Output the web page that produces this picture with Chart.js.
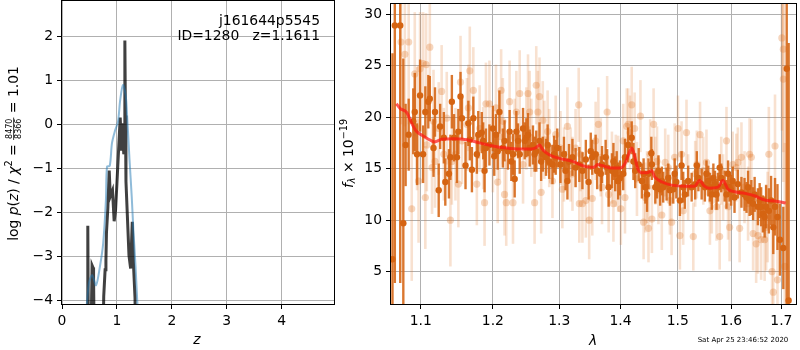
<!DOCTYPE html>
<html><head><meta charset="utf-8">
<script src="https://cdn.jsdelivr.net/npm/chart.js@4/dist/chart.umd.min.js"></script>
<style>html,body{margin:0;padding:0;background:#fff;}#wrap{position:relative;width:800px;height:350px;}canvas{position:absolute;left:0;top:0;}</style>
</head><body><div id="wrap"><canvas id="c1" width="800" height="350"></canvas><canvas id="c2" width="800" height="350"></canvas></div>
<script>
// ---------- Left panel: log p(z) ----------
const zTicks = [0, 1, 2, 3, 4];
const logpTicks = [-4, -3, -2, -1, 0, 1, 2];
const zPz = [0.455,0.466,0.470,0.485,0.515,0.548,0.565,0.575,0.595,0.735,0.76,0.785,0.80,0.81,0.835,0.86,0.875,0.89,0.92,0.95,0.975,1.0,1.03,1.06,1.085,1.10,1.125,1.14,1.145,1.155,1.165,1.19,1.22,1.25,1.28,1.30,1.33,1.35];
const logPz = [-6,-6,-2.3,-6,-6,-3.2,-3.25,-3.5,-6,-6,-3.9,-3.3,-3.1,-2.45,-1.9,-1.05,-1.5,-1.6,-1.5,-2.2,-1.95,-1.35,-0.6,0.15,-0.6,0.02,-0.68,-0.5,1.9,0.2,-1.3,-2.06,-2.97,-3.27,-2.21,-3.12,-3.94,-6];
const zFit = [0.42,0.49,0.55,0.62,0.69,0.75,0.80,0.82,0.87,0.91,0.96,1.02,1.06,1.11,1.16,1.19,1.23,1.27,1.30,1.34,1.37,1.40];
const logFit = [-4.6,-3.6,-3.42,-3.65,-3.23,-2.7,-1.72,-0.96,-0.94,-0.43,-0.17,0.06,0.55,0.89,0.66,0.1,-0.81,-1.64,-2.4,-3.23,-3.99,-4.6];

// ---------- Right panel: spectrum ----------
const lamTicks = [1.1, 1.2, 1.3, 1.4, 1.5, 1.6, 1.7];
const fluxTicks = [5, 10, 15, 20, 25, 30];
const darkLam = [1.066,1.073,1.063,1.077,1.080,1.084,1.090,1.092,1.095,1.099,
1.103,1.106,1.110,1.112,1.117,1.119,1.124,1.126,1.131,1.133,
1.138,1.140,1.142,1.145,1.149,1.151,1.154,1.156,1.161,1.165,
1.167,1.170,1.172,1.177,1.179,1.184,1.186,1.188,1.190,1.195,
1.200,1.202,1.2045,1.207,1.2095,1.2145,1.217,1.222,1.2245,1.227,
1.2295,1.232,1.2345,1.237,1.2395,1.2445,1.247,1.2495,1.252,1.2545,
1.2595,1.262,1.2645,1.2695,1.272,1.2745,1.2795,1.282,1.2845,1.2895,
1.292,1.2945,1.297,1.302,1.3075,1.310,1.313,1.3155,1.321,1.326,
1.332,1.337,1.3425,1.347,1.3505,1.353,1.3585,1.361,1.367,1.369,
1.375,1.3775,1.380,1.3855,1.388,1.391,1.3935,1.396,1.399,1.4045,
1.4075,1.413,1.419,1.422,1.425,1.431,1.4365,1.4395,1.4425,1.4455,
1.448,1.453,1.454,1.460,1.463,1.4655,1.4685,1.4715,1.474,1.480,
1.483,1.486,1.492,1.4945,1.4975,1.504,1.507,1.510,1.513,1.519,
1.5255,1.532,1.535,1.538,1.544,1.550,1.553,1.5565,1.5595,1.563,
1.566,1.569,1.572,1.575,1.578,1.581,1.5875,1.591,1.594,1.597,
1.600,1.603,1.6065,1.613,1.620,1.626,1.630,1.633,1.636,1.6395,
1.643,1.646,1.6525,1.656,1.659,1.6625,1.666,1.669,1.6745,1.679,
1.6835,1.687,1.692,1.697,1.704,1.711,1.715];
const darkFlux = [28.9,28.9,6.2,9.7,17.3,18.3,19.6,20.5,16.4,22.1,
16.4,20.5,21.5,21.8,17.0,20.5,12.9,19.1,18.0,13.7,
14.5,16.1,21.5,18.0,16.1,18.6,22.0,19.9,15.3,19.4,
17.8,14.9,19.9,16.4,18.3,18.5,17.7,14.8,17.0,17.3,
18.9,16.2,18.3,16.7,20.5,17.0,17.7,16.7,18.6,15.7,
16.4,14.0,18.6,17.7,16.4,18.9,17.7,18.0,18.3,17.0,
17.3,16.4,16.7,17.7,15.7,16.4,16.1,17.3,15.7,15.4,
16.4,16.1,17.0,15.4,16.4,14.8,13.8,15.7,16.1,15.1,
15.4,14.8,15.9,13.7,16.7,16.1,16.4,14.8,14.5,15.4,
16.1,15.1,13.2,14.8,15.7,14.5,15.1,13.8,14.1,14.5,
16.1,17.3,18.0,15.7,14.8,15.4,13.8,14.5,13.2,12.5,
14.5,16.5,15.4,13.2,13.5,14.8,13.0,13.8,13.2,13.5,
14.1,12.9,13.0,14.5,13.7,11.9,15.3,13.2,12.5,13.8,
13.2,13.5,15.3,14.1,13.5,13.2,14.5,13.8,13.2,12.5,
14.1,13.5,12.5,13.2,15.1,14.1,13.3,12.5,14.5,13.2,
12.9,13.8,12.2,13.5,12.7,12.5,12.2,13.2,11.9,12.2,
11.6,12.5,11.3,11.9,11.3,10.6,10.3,11.3,10.9,11.9,
9.3,11.3,10.3,8.1,7.3,24.7,2.2];
const darkErr = [25,25,20,16,4.0,3.5,3.2,3.8,3.0,3.5,
2.8,2.5,2.6,2.2,2.8,2.4,2.6,2.2,2.5,2.3,
2.4,2.2,2.6,2.3,2.5,2.2,2.4,2.0,2.3,2.2,
2.0,2.2,2.1,1.9,2.3,2.0,1.8,2.1,1.9,2.0,
2.2,1.9,2.0,1.8,2.1,1.9,2.0,1.8,2.1,1.9,
2.0,1.8,2.0,1.7,1.9,2.0,1.8,1.9,2.1,1.8,
1.9,1.7,2.0,1.8,1.9,1.7,1.8,2.0,1.7,1.9,
1.8,1.7,1.9,1.8,1.7,1.9,1.8,1.7,1.8,1.9,
1.7,1.8,1.9,1.7,1.8,1.7,1.9,1.8,1.7,1.8,
1.7,1.8,1.9,1.7,1.8,1.7,1.6,1.8,1.7,1.6,
1.8,1.7,1.6,1.8,1.7,1.6,1.7,1.5,1.6,1.7,
1.5,1.6,1.5,1.6,1.4,1.5,1.6,1.4,1.5,1.6,
1.4,1.5,1.4,1.5,1.6,1.5,1.4,1.5,1.4,1.5,
1.4,1.5,1.4,1.3,1.5,1.4,1.3,1.5,1.4,1.5,
1.4,1.3,1.5,1.4,1.3,1.4,1.5,1.4,1.3,1.4,
1.5,1.4,1.5,1.4,1.5,1.6,1.5,1.6,1.5,1.7,
1.6,1.7,1.8,1.7,1.9,1.8,2.0,2.1,2.2,2.4,
2.6,2.8,3.2,3.5,4.0,25,25];
const lightLam = [1.074,1.079,1.084,1.088,1.092,1.095,1.097,1.099,1.103,1.107,
1.112,1.106,1.108,1.115,1.117,1.119,1.124,1.128,1.131,1.135,
1.140,1.142,1.147,1.151,1.154,1.156,1.163,1.165,1.167,1.172,
1.177,1.181,1.186,1.188,1.190,1.195,1.200,1.2045,1.207,1.2095,
1.212,1.2145,1.217,1.2195,1.2245,1.2295,1.232,1.2345,1.2395,1.2445,
1.2495,1.252,1.2545,1.257,1.262,1.2645,1.267,1.2695,1.272,1.2745,
1.277,1.282,1.2845,1.2895,1.2945,1.302,1.305,1.3075,1.313,1.318,
1.321,1.326,1.331,1.332,1.334,1.337,1.3425,1.348,1.353,1.3585,
1.363,1.367,1.369,1.3775,1.380,1.3855,1.388,1.392,1.396,1.4005,
1.4045,1.4075,1.4105,1.413,1.416,1.419,1.424,1.428,1.434,1.4395,
1.4425,1.4455,1.448,1.451,1.454,1.457,1.460,1.463,1.4655,1.4715,
1.4775,1.483,1.486,1.489,1.4945,1.5005,1.504,1.507,1.510,1.516,
1.519,1.5285,1.532,1.535,1.541,1.547,1.553,1.5595,1.563,1.572,
1.578,1.581,1.5845,1.591,1.594,1.597,1.603,1.610,1.613,1.6165,
1.620,1.626,1.633,1.636,1.6395,1.643,1.649,1.6525,1.659,1.666,
1.669,1.672,1.6745,1.681,1.6835,1.687,1.692,1.701,1.704,1.704,
1.707];
const lightFlux = [27.3,26.1,27.3,11.1,24.2,18.9,13.8,24.7,25.2,25.1,
26.8,12.2,17.3,15.1,19.6,15.7,18.9,22.5,16.4,19.9,
10.0,15.7,16.4,13.5,23.4,17.7,19.3,20.9,24.5,22.6,
13.5,18.9,17.0,11.7,21.3,21.3,16.7,20.9,13.7,18.1,
22.6,19.6,12.5,11.7,21.5,11.7,18.0,20.5,22.3,15.4,
18.9,22.3,20.5,18.0,11.7,23.1,20.5,22.0,12.7,19.7,
17.8,18.6,17.0,13.8,18.3,17.0,13.0,15.4,19.1,15.4,
14.5,17.0,21.2,11.6,16.4,11.6,11.9,10.0,12.1,17.7,
19.3,16.1,13.2,20.5,12.5,15.1,11.6,14.8,14.5,11.1,
17.7,12.2,19.1,19.3,18.5,21.2,18.9,14.0,20.1,9.8,
12.2,13.2,9.2,16.4,10.1,19.3,14.8,15.7,12.9,10.5,
15.6,15.1,11.9,9.8,16.1,18.9,8.5,16.4,10.9,18.5,
13.2,8.4,14.5,15.4,18.3,14.8,15.6,10.9,11.9,11.3,
8.4,14.8,13.2,17.7,11.3,9.3,15.4,15.1,15.6,9.2,
16.1,13.2,11.6,16.4,16.1,8.7,7.7,8.5,8.1,8.1,
9.3,10.3,16.4,5.0,3.0,17.2,4.2,27.7,26.6,23.7,
5.5];
const lightErr = [8,7,8,7,6,6,6,5.5,5,5,
5,5,4.5,4.5,5,4.5,4.5,4.5,4.5,4.5,
4.5,4.2,4.5,4.2,4.5,4.2,4.5,4.2,4.3,4.2,
4.0,4.2,4.0,4.2,4.0,4.2,4.0,4.2,4.0,4.2,
4.0,4.2,4.0,4.2,4.0,4.0,3.8,4.0,4.2,3.8,
4.0,3.8,4.0,3.8,4.0,3.8,4.0,3.8,4.0,3.8,
3.8,4.0,3.8,3.6,3.8,3.6,3.8,3.6,3.8,3.6,
3.6,3.8,3.6,3.8,3.6,3.8,3.6,3.8,3.6,3.8,
3.6,3.8,3.6,3.5,3.7,3.5,3.7,3.5,3.7,3.5,
3.6,3.5,3.7,3.5,3.6,3.7,3.5,3.6,3.5,3.6,
3.4,3.5,3.3,3.4,3.3,3.5,3.3,3.4,3.3,3.4,
3.3,3.2,3.3,3.2,3.3,3.2,3.3,3.2,3.3,3.2,
3.2,3.3,3.2,3.3,3.2,3.3,3.2,3.3,3.2,3.3,
3.2,3.3,3.2,3.3,3.2,3.3,3.2,3.3,3.4,3.3,
3.4,3.5,3.6,3.5,3.7,3.6,3.8,3.7,3.9,4.0,
4.2,4.4,4.6,5.0,5.5,5.0,6.0,9,10,10,
12];
const modelLam = [1.068,1.073,1.0816,1.088,1.0945,1.101,1.1092,1.1183,1.128,1.1445,1.163,1.181,1.200,1.2195,1.2395,1.257,1.2645,1.2695,1.2745,1.2845,1.300,1.321,1.3425,1.356,1.3615,1.369,1.3855,1.400,1.4075,1.4145,1.419,1.4235,1.429,1.436,1.4455,1.4535,1.459,1.472,1.489,1.513,1.531,1.540,1.549,1.558,1.575,1.584,1.594,1.607,1.627,1.647,1.666,1.686,1.709];
const modelFlux = [21.3,20.83,20.45,19.4,18.6,18.27,17.9,17.6,17.85,17.9,17.8,17.5,17.2,17.0,16.9,16.9,17.05,17.3,16.83,16.35,16.0,15.7,15.2,15.13,15.4,15.3,15.06,15.06,15.5,16.5,17.0,16.35,15.06,14.6,14.6,14.8,14.2,13.7,13.4,13.3,13.3,13.85,13.3,13.1,13.2,13.85,13.0,12.76,12.6,12.34,11.95,11.86,11.67];

const FAM = '"DejaVu Sans", sans-serif';
const FS = 13.9;
const tickFont = {family: FAM, size: FS};
const fmtNum = v => (v < 0 ? '\u2212' + Math.abs(v) : String(v));
const GRID = {color: '#b0b0b0', lineWidth: 1, tickLength: 5, tickColor: '#000', tickWidth: 1, drawTicks: true};
const noPad = s => { s.paddingTop = 0; s.paddingBottom = 0; s.paddingLeft = 0; s.paddingRight = 0; };

function drawMath(ctx, bx, cy, pieces) {
  ctx.save();
  ctx.translate(bx, cy);
  ctx.rotate(-Math.PI / 2);
  ctx.fillStyle = '#000';
  ctx.textBaseline = 'alphabetic';
  ctx.textAlign = 'left';
  const widths = pieces.map(p => {
    ctx.font = p.f;
    if (p.frac) return Math.max(ctx.measureText(p.frac[0]).width, ctx.measureText(p.frac[1]).width) + 2;
    return ctx.measureText(p.t).width;
  });
  const total = widths.reduce((a, b) => a + b, 0);
  let x = -total / 2;
  pieces.forEach((p, i) => {
    ctx.font = p.f;
    if (p.frac) {
      const w = widths[i];
      const n = ctx.measureText(p.frac[0]).width, d = ctx.measureText(p.frac[1]).width;
      ctx.fillText(p.frac[0], x + (w - n) / 2, p.ny);
      ctx.fillText(p.frac[1], x + (w - d) / 2, p.dy2);
      ctx.fillRect(x, p.by - 0.4, w, 0.8);
    } else {
      ctx.fillText(p.t, x, p.dy || 0);
    }
    x += widths[i];
  });
  ctx.restore();
}

function frame(chart) {
  const ctx = chart.ctx, a = chart.chartArea;
  ctx.save();
  ctx.strokeStyle = '#000';
  ctx.lineWidth = 1;
  ctx.strokeRect(Math.round(a.left) - 0.5, Math.round(a.top) - 0.5, Math.round(a.right - a.left) + 1, Math.round(a.bottom - a.top) + 1);
  ctx.restore();
}

const F = FS + 'px ' + FAM, FI = 'italic ' + FS + 'px ' + FAM;
const FSUP = '9.7px ' + FAM, FSUPI = 'italic 9.7px ' + FAM, FFR = '8px ' + FAM;

const leftDecor = {
  id: 'leftDecor',
  afterDraw(chart) {
    frame(chart);
    const ctx = chart.ctx;
    ctx.save();
    ctx.fillStyle = '#000';
    ctx.font = F;
    ctx.textAlign = 'right';
    ctx.textBaseline = 'alphabetic';
    ctx.fillText('j161644p5545', 320, 25);
    ctx.fillText('ID=1280   z=1.1611', 320, 39.5);
    ctx.font = FI;
    ctx.textAlign = 'center';
    ctx.fillText('z', 197, 344);
    ctx.restore();
    drawMath(ctx, 17.5, 153.5, [
      {t: 'log ', f: F}, {t: 'p', f: FI}, {t: '(', f: F}, {t: 'z', f: FI}, {t: ')', f: F},
      {t: ' / ', f: F}, {t: '\u03c7', f: FI}, {t: '2', f: FSUP, dy: -5.5}, {t: ' = ', f: F},
      {frac: ['8470', '8366'], f: FFR, ny: -5.5, dy2: 3, by: -3.8},
      {t: ' = 1.01', f: F}
    ]);
  }
};

const rightDecor = {
  id: 'rightDecor',
  afterDraw(chart) {
    frame(chart);
    const ctx = chart.ctx;
    ctx.save();
    ctx.fillStyle = '#000';
    ctx.font = FI;
    ctx.textAlign = 'center';
    ctx.textBaseline = 'alphabetic';
    ctx.fillText('\u03bb', 593, 345);
    ctx.font = '7px ' + FAM;
    ctx.fillText('Sat Apr 25 23:46:52 2020', 743, 342);
    ctx.restore();
    drawMath(ctx, 352.5, 153.5, [
      {t: 'f', f: FI}, {t: '\u03bb', f: FSUPI, dy: 2.5}, {t: ' \u00d7 ', f: F}, {t: '10', f: F},
      {t: '\u221219', f: FSUP, dy: -5.5}
    ]);
  }
};

new Chart(document.getElementById('c1'), {
  type: 'scatter',
  data: {datasets: [
    {data: zFit.map((z, i) => ({x: z, y: logFit[i]})), showLine: true, pointRadius: 0, borderColor: 'rgba(31,119,180,0.5)', borderWidth: 2, tension: 0.3, clip: 0, order: 0},
    {data: zPz.map((z, i) => ({x: z, y: logPz[i]})), showLine: true, pointRadius: 0, borderColor: 'rgba(0,0,0,0.75)', borderWidth: 3, tension: 0, clip: 0, order: 1}
  ]},
  options: {
    responsive: false, animation: false, events: [],
    layout: {padding: {left: 0, right: 466, top: 1, bottom: 0}},
    plugins: {legend: {display: false}, tooltip: {enabled: false}},
    scales: {
      x: {type: 'linear', min: 0, max: 4.954, bounds: 'data',
        afterBuildTicks: s => { s.ticks = zTicks.map(v => ({value: v})); },
        afterFit: s => { s.height = 46; noPad(s); },
        grid: GRID, border: {display: false},
        ticks: {font: tickFont, color: '#000', padding: 4, maxRotation: 0, autoSkip: false, callback: v => fmtNum(v)}},
      y: {type: 'linear', min: -4.075, max: 2.794, bounds: 'data',
        afterBuildTicks: s => { s.ticks = logpTicks.map(v => ({value: v})); },
        afterFit: s => { s.width = 62; noPad(s); },
        grid: GRID, border: {display: false},
        ticks: {font: tickFont, color: '#000', padding: 4, autoSkip: false, callback: v => fmtNum(v)}}
    }
  },
  plugins: [leftDecor]
});

const DARK = 'rgb(213,100,18)';
const DARKA = 'rgba(213,100,18,0.88)';
const LIGHT = 'rgba(225,120,40,0.3)';
const LIGHTBAR = 'rgba(225,120,40,0.22)';

new Chart(document.getElementById('c2'), {
  type: 'scatter',
  data: {datasets: [
    {data: modelLam.map((l, i) => ({x: l, y: modelFlux[i]})), showLine: true, pointRadius: 0, borderColor: 'rgba(255,20,20,0.7)', borderWidth: 3, cubicInterpolationMode: 'monotone', clip: 0, order: 0},
    {data: darkLam.map((l, i) => ({x: l, y: darkFlux[i]})), pointRadius: 3.2, backgroundColor: DARK, borderWidth: 0, clip: 0, order: 1},
    {type: 'bar', data: darkLam.map((l, i) => ({x: l, y: [darkFlux[i] - darkErr[i], darkFlux[i] + darkErr[i]]})), backgroundColor: DARKA, borderWidth: 0, barThickness: 2.4, inflateAmount: 0, grouped: false, clip: 0, order: 2},
    {data: lightLam.map((l, i) => ({x: l, y: lightFlux[i]})), pointRadius: 3.6, backgroundColor: LIGHT, borderWidth: 0, clip: 0, order: 3},
    {type: 'bar', data: lightLam.map((l, i) => ({x: l, y: [lightFlux[i] - lightErr[i], lightFlux[i] + lightErr[i]]})), backgroundColor: LIGHTBAR, borderWidth: 0, barThickness: 2.6, inflateAmount: 0, grouped: false, clip: 0, order: 4}
  ]},
  options: {
    responsive: false, animation: false, events: [],
    layout: {padding: {left: 345, right: 1, top: 1, bottom: 0}},
    plugins: {legend: {display: false}, tooltip: {enabled: false}},
    scales: {
      x: {type: 'logarithmic', min: 1.0611, max: 1.7303, bounds: 'data', offset: false,
        afterBuildTicks: s => { s.ticks = lamTicks.map(v => ({value: v})); },
        afterFit: s => { s.height = 46; noPad(s); },
        grid: Object.assign({offset: false}, GRID), border: {display: false},
        ticks: {font: tickFont, color: '#000', padding: 4, maxRotation: 0, autoSkip: false, callback: v => Number(v).toFixed(1)}},
      y: {type: 'linear', min: 1.855, max: 30.99, bounds: 'data', beginAtZero: false,
        afterBuildTicks: s => { s.ticks = fluxTicks.map(v => ({value: v})); },
        afterFit: s => { s.width = 46; noPad(s); },
        grid: GRID, border: {display: false},
        ticks: {font: tickFont, color: '#000', padding: 4, autoSkip: false, callback: v => String(v)}}
    }
  },
  plugins: [rightDecor]
});
</script></body></html>
